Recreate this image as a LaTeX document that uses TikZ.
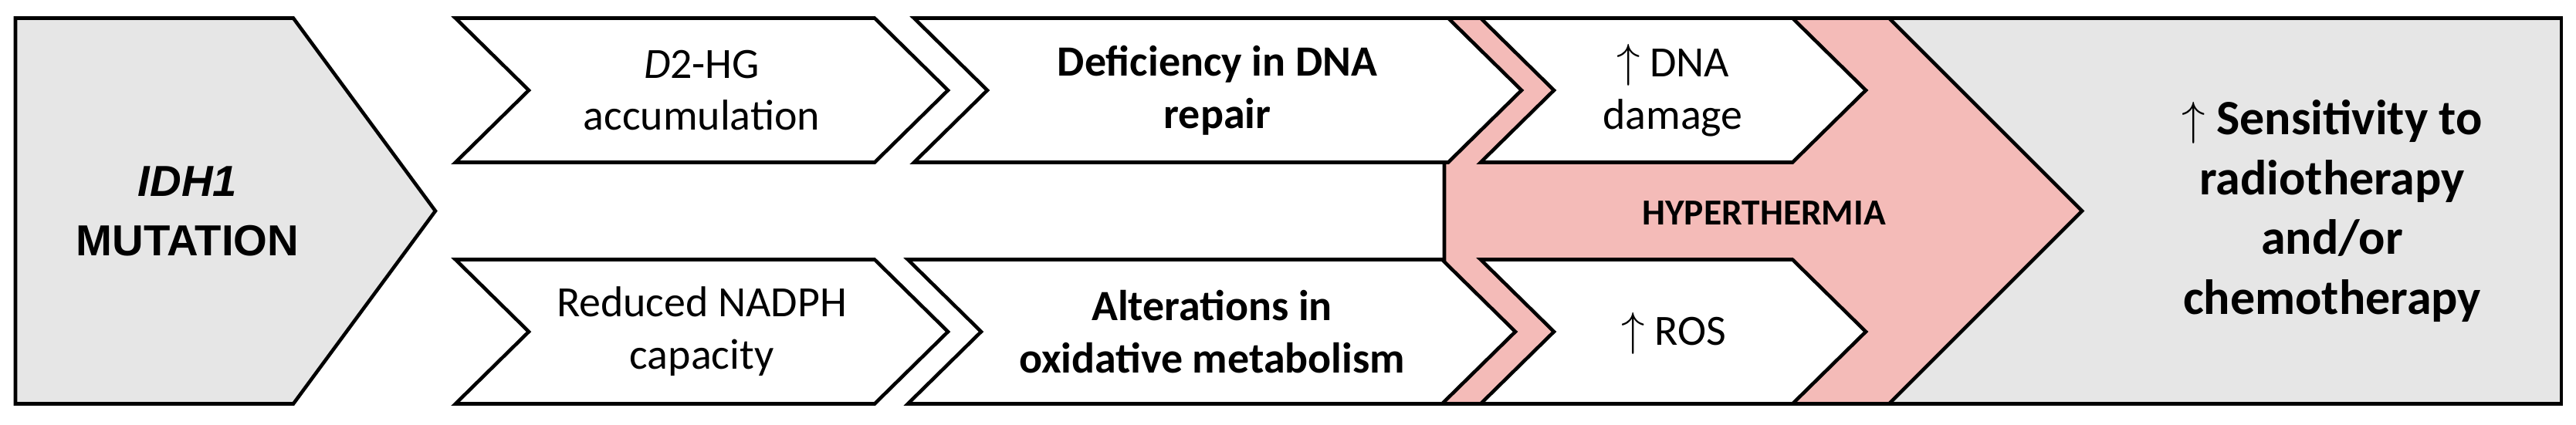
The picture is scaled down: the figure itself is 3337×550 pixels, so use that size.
\documentclass[tikz,border=0pt]{standalone}
\usepackage{fontspec}
\setmainfont{Carlito}
\newfontfamily\arialfont{Liberation Sans}
\newcommand\upar{$\uparrow$}
\definecolor{boxgray}{HTML}{E6E6E6}
\definecolor{heatpink}{HTML}{F4BBB8}
% #1 left x, #2 top y, #3 bottom y, #4 shoulder x, #5 depth
\newcommand\mychev[5]{%
  \draw[chev] (#1,#2) -- (#4,#2) -- ({#4+#5},{(#2+#3)/2}) -- (#4,#3) -- (#1,#3) -- ({#1+#5},{(#2+#3)/2}) -- cycle;}
\begin{document}
\begin{tikzpicture}[x=0.01cm,y=-0.01cm,line width=1.3pt,line join=miter,
  chev/.style={draw=black,fill=white},
  txt/.style={align=center,inner sep=0pt,font=\fontsize{15.9}{19.3}\selectfont},
  btxt/.style={txt,font=\fontsize{15.9}{19.3}\selectfont\bfseries}]
\useasboundingbox (0,0) rectangle (3337,550);
% right result box
\fill[boxgray] (2440,23.5) rectangle (3318,523.5);
\draw (2440,23.5) -- (3318,23.5) -- (3318,523.5) -- (2440,523.5);
% hyperthermia arrow
\draw[fill=heatpink] (1871,23.5) -- (2447,23.5) -- (2697,273.5) -- (2447,523.5) -- (1871,523.5) -- cycle;
% IDH1 box
\draw[fill=boxgray] (20,23.5) -- (380,23.5) -- (564,273.5) -- (380,523.5) -- (20,523.5) -- cycle;
% chevrons
\mychev{590}{23.5}{210.5}{1133}{95}
\mychev{590}{336.5}{523.5}{1133}{95}
\mychev{1184}{23.5}{210.5}{1876}{95}
\mychev{1176}{336.5}{523.5}{1868}{95}
\mychev{1918}{23.5}{210.5}{2322}{95}
\mychev{1918}{336.5}{523.5}{2322}{95}
% texts
\node[align=center,inner sep=0pt,font=\arialfont\fontsize{16}{21.9}\selectfont\bfseries] (idh) at (243,273.5) {\textit{IDH1}\\MUTATION};
\node[txt] (d2hg) at (909,117) {\textit{D}2-HG\\accumulation};
\node[txt] (nadph) at (909,430) {Reduced NADPH\\capacity};
\node[btxt] (repair) at (1577,117) {Deficiency in DNA\\repair};
\node[btxt] (oxid) at (1570,430) {Alterations in\\oxidative metabolism};
\node[txt] (dna) at (2167,117) {\upar{} DNA\\damage};
\node[txt] (ros) at (2168,432) {\upar{} ROS};
\node[inner sep=0pt,font=\fontsize{13.5}{16}\selectfont\bfseries] (heat) at (2285,276) {HYPERTHERMIA};
\node[align=center,inner sep=0pt,font=\fontsize{18.2}{22.1}\selectfont\bfseries] (sens) at (3021,273.5) {\upar{} Sensitivity to\\radiotherapy\\and/or\\chemotherapy};
\end{tikzpicture}
\end{document}
